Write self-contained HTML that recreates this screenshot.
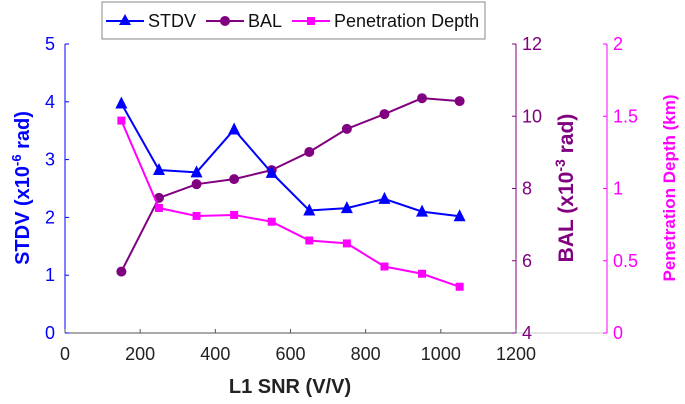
<!DOCTYPE html>
<html><head><meta charset="utf-8"><style>
body{margin:0;background:#fff;}
svg{display:block;font-family:"Liberation Sans",Arial,sans-serif;}
</style></head><body>
<svg id="c" width="685" height="404" viewBox="0 0 685 404"></svg>
<script>
const xVals=[150,250,350,450,550,650,750,850,950,1050];
const stdv=[3.97,2.82,2.78,3.52,2.77,2.12,2.16,2.32,2.1,2.02];
const bal=[5.7,7.74,8.12,8.26,8.51,9.01,9.65,10.06,10.5,10.42];
const pen=[1.47,0.865,0.81,0.817,0.77,0.64,0.62,0.46,0.41,0.32];
const xTicks=[0,200,400,600,800,1000,1200];
const yTicks=[0,1,2,3,4,5];
const balTicks=[4,6,8,10,12];
const penTicks=[0,0.5,1,1.5,2];
const L=65,R=516,T=44,B=333,P=607;
const sx=v=>L+v/1200*(R-L);
const sy=v=>B-v/5*(B-T);
const sb=v=>B-(v-4)/8*(B-T);
const sp=v=>B-v/2*(B-T);
const svg=document.getElementById('c');
const NS='http://www.w3.org/2000/svg';
function mk(t,a,txt){const e=document.createElementNS(NS,t);for(const k in a)e.setAttribute(k,a[k]);if(txt!==undefined)e.textContent=txt;svg.appendChild(e);return e;}
let e;
e=mk('line',{x1:L,y1:T,x2:L,y2:B,stroke:'#0000ff'});


e=mk('line',{x1:L,y1:B,x2:R,y2:B,stroke:'#555'});


e=mk('line',{x1:R,y1:T,x2:R,y2:B,stroke:'#800080'});


e=mk('line',{x1:R,y1:B,x2:P,y2:B,stroke:'#ccc'});
e=mk('line',{x1:P,y1:T,x2:P,y2:B,stroke:'#ff00ff'});


xTicks.forEach(v=>{mk('line',{x1:sx(v),y1:B,x2:sx(v),y2:B-4,stroke:'#555'});
e=mk('text',{x:sx(v),y:B+27,'text-anchor':'middle','font-size':18,fill:'#222'},v);

});
yTicks.forEach(v=>{mk('line',{x1:L,y1:sy(v),x2:L+4,y2:sy(v),stroke:'#00f'});
e=mk('text',{x:L-10,y:sy(v)+6,'text-anchor':'end','font-size':18,fill:'#00f'},v);

});
balTicks.forEach(v=>{mk('line',{x1:R,y1:sb(v),x2:R-4,y2:sb(v),stroke:'#800080'});
e=mk('text',{x:R+6,y:sb(v)+6,'font-size':18,fill:'#800080'},v);

});
penTicks.forEach(v=>{mk('line',{x1:P,y1:sp(v),x2:P-4,y2:sp(v),stroke:'#f0f'});
e=mk('text',{x:P+6,y:sp(v)+6,'font-size':18,fill:'#ff00ff'},v);

});
function series(vals,f,col,name,shape){
 e=mk('polyline',{points:vals.map((v,i)=>sx(xVals[i])+','+f(v)).join(' '),fill:'none',stroke:col,'stroke-width':2});
 
 
 vals.forEach((v,i)=>{const x=sx(xVals[i]),y=f(v);
  if(shape==='tri')e=mk('polygon',{points:`${x},${y-7} ${x-6},${y+5} ${x+6},${y+5}`,fill:col});
  else if(shape==='circ')e=mk('circle',{cx:x,cy:y,r:5,fill:col});
  else e=mk('rect',{x:x-4,y:y-4,width:8,height:8,fill:col});
  
  });
}
series(bal,sb,'#800080','bal','circ');
series(pen,sp,'#ff00ff','penetration','sq');
series(stdv,sy,'#0000ff','stdv','tri');
e=mk('text',{x:290,y:393,'text-anchor':'middle','font-size':20,'font-weight':'bold',fill:'#222'},'L1 SNR (V/V)');


e=mk('text',{transform:'translate(29,188) rotate(-90)','text-anchor':'middle','font-size':20,'font-weight':'bold',fill:'#0000ff'});
e.innerHTML='STDV (x10<tspan dy="-8" font-size="13">-6</tspan><tspan dy="8"> rad)</tspan>';


e=mk('text',{transform:'translate(573,188) rotate(-90)','text-anchor':'middle','font-size':21,'font-weight':'bold',fill:'#800080'});
e.innerHTML='BAL (x10<tspan dy="-8" font-size="14">-3</tspan><tspan dy="8"> rad)</tspan>';


e=mk('text',{transform:'translate(675,188) rotate(-90)','text-anchor':'middle','font-size':17,'font-weight':'bold',fill:'#ff00ff'},'Penetration Depth (km)');


e=mk('rect',{x:102,y:2,width:383,height:37,fill:'#fff',stroke:'#888'});


const leg=[['STDV','#0000ff','tri',106],['BAL','#800080','circ',206],['Penetration Depth','#ff00ff','sq',292]];
leg.forEach(([n,c,s,x])=>{mk('line',{x1:x,y1:21,x2:x+38,y2:21,stroke:c,'stroke-width':2});
 const cx=x+19;
 if(s==='tri')mk('polygon',{points:`${cx},14 ${cx-6},25 ${cx+6},25`,fill:c});
 else if(s==='circ')mk('circle',{cx:cx,cy:21,r:5,fill:c});
 else mk('rect',{x:cx-4,y:17,width:8,height:8,fill:c});
 e=mk('text',{x:x+42,y:27,'font-size':18,fill:'#111'},n);
 
 });
</script>
</body></html>
